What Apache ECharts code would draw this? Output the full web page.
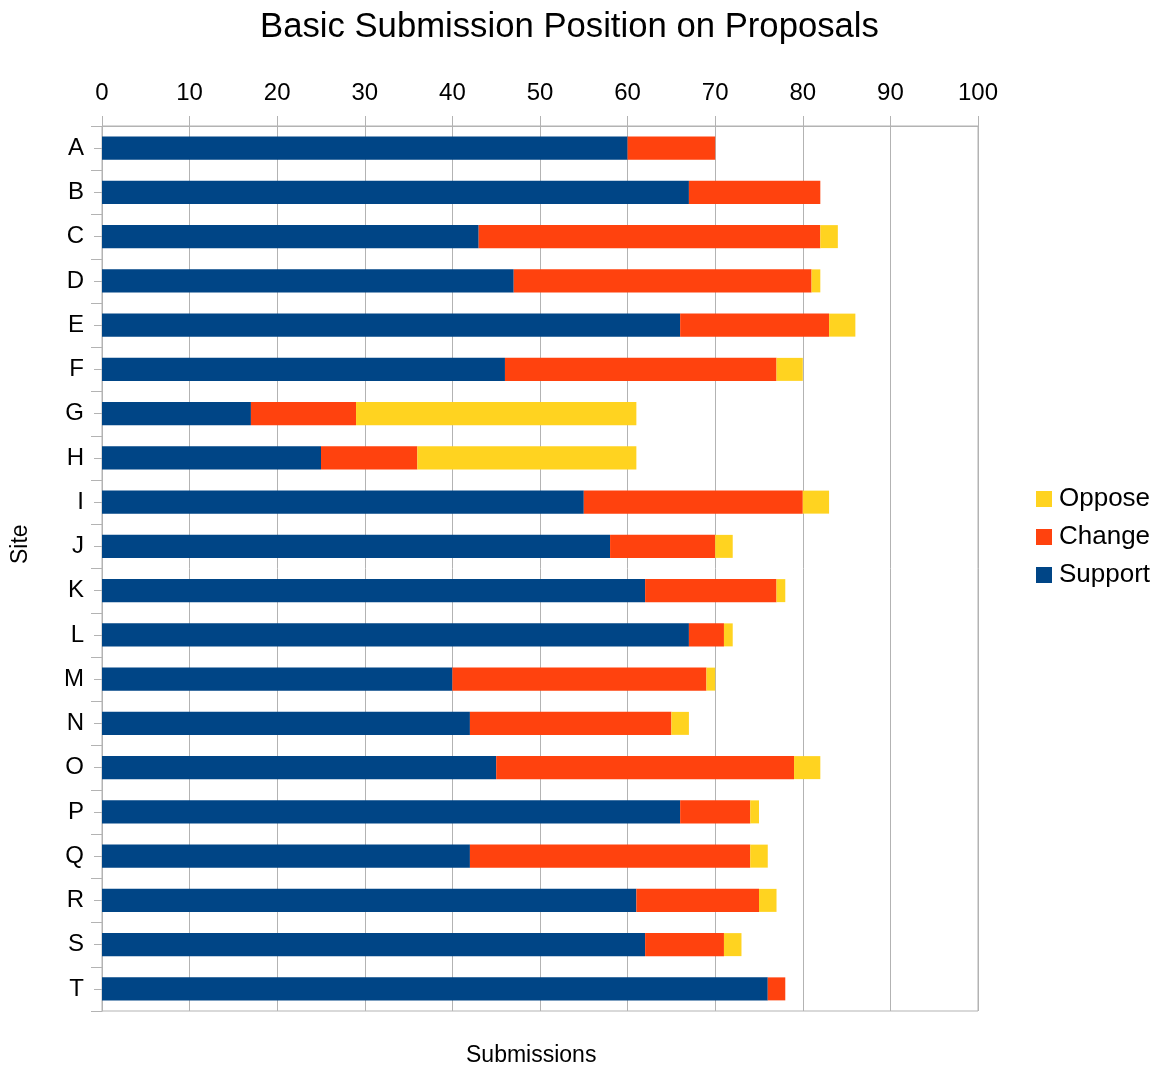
<!DOCTYPE html>
<html>
<head>
<meta charset="utf-8">
<script src="https://cdn.jsdelivr.net/npm/echarts@6/dist/echarts.min.js"></script>
<style>html,body{margin:0;padding:0;background:#fff}#c{width:1163px;height:1070px}</style>
</head>
<body>
<div id="c"></div>
<script>
const categories = ['A','B','C','D','E','F','G','H','I','J','K','L','M','N','O','P','Q','R','S','T'];
const support = [60,67,43,47,66,46,17,25,55,58,62,67,40,42,45,66,42,61,62,76];
const change  = [10,15,39,34,17,31,12,11,25,12,15, 4,29,23,34, 8,32,14, 9, 2];
const oppose  = [ 0, 0, 2, 1, 3, 3,32,25, 3, 2, 1, 1, 1, 2, 3, 1, 2, 2, 2, 0];
const seriesNames = ['Support','Change','Oppose'];
const xTicks = {min:0, max:100, interval:10};

const FONT = 'Liberation Sans, Arial, sans-serif';
const GRID = '#b3b3b3';
const chart = echarts.init(document.getElementById('c'), null, {renderer:'canvas'});
const mk = (name, data, color) => ({
  name, type:'bar', stack:'total', data, barWidth:'52%',
  itemStyle:{color}, xAxisIndex:0, yAxisIndex:0, animation:false
});
chart.setOption({
  animation:false,
  title:{text:'Basic Submission Position on Proposals', left:255, top:5,
    textStyle:{fontFamily:FONT, fontSize:34.7, fontWeight:'normal', color:'#000'}},
  grid:{left:102, top:126, width:876, height:885, show:true, borderColor:GRID, borderWidth:1, containLabel:false},
  legend:{orient:'vertical', left:1031, top:481, data:['Oppose','Change','Support'],
    itemWidth:16, itemHeight:16, itemGap:12, icon:'rect',
    textStyle:{fontFamily:FONT, fontSize:26, color:'#000', lineHeight:26, padding:[0,0,0,2]}},
  xAxis:[{type:'value', position:'top', min:xTicks.min, max:xTicks.max, interval:xTicks.interval,
    axisLine:{show:true, lineStyle:{color:GRID}},
    axisTick:{show:true, length:10, lineStyle:{color:GRID}},
    axisLabel:{fontFamily:FONT, fontSize:24, color:'#000', margin:21},
    splitLine:{show:true, lineStyle:{color:GRID}}},
    {type:'value', position:'bottom', min:xTicks.min, max:xTicks.max, interval:xTicks.interval,
    axisLine:{show:false}, axisTick:{show:false}, axisLabel:{show:false}, splitLine:{show:false}}],
  yAxis:[{type:'category', data:categories, inverse:true, position:'left',
    axisLine:{show:true, lineStyle:{color:GRID}},
    axisTick:{show:true, length:11, alignWithLabel:false, lineStyle:{color:GRID}},
    axisLabel:{fontFamily:FONT, fontSize:24, color:'#000', margin:18, padding:[2,0,0,0]},
    splitLine:{show:false}},
    {type:'category', data:categories, inverse:true, position:'left',
    axisLine:{show:false},
    axisTick:{show:true, length:8, alignWithLabel:true, lineStyle:{color:GRID}},
    axisLabel:{show:false}, splitLine:{show:false}}],
  graphic:[
    {type:'text', left:466, top:1044, style:{text:'Submissions', fontFamily:FONT, fontSize:23, fill:'#000'}},
    {type:'text', x:9, y:564, rotation:Math.PI/2, style:{text:'Site', fontFamily:FONT, fontSize:23, fill:'#000'}}
  ],
  series:[mk(seriesNames[0], support, '#004586'), mk(seriesNames[1], change, '#ff420e'), mk(seriesNames[2], oppose, '#ffd320')]
});
</script>
</body>
</html>
